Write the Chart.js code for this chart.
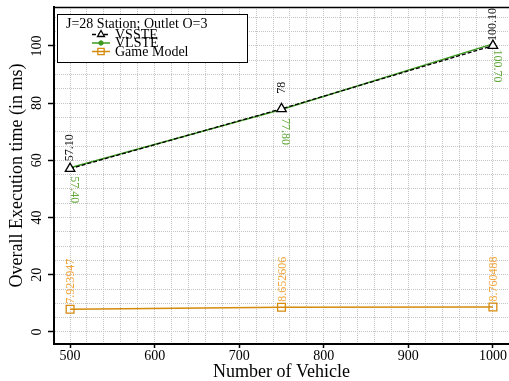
<!DOCTYPE html>
<html>
<head>
<meta charset="utf-8">
<script src="https://cdn.jsdelivr.net/npm/chart.js@4.4.0/dist/chart.umd.min.js"></script>
<style>
  html, body { margin: 0; padding: 0; background: #fff; }
</style>
</head>
<body>
<canvas id="chart" width="509" height="381"></canvas>
<script>
// execution time per vehicle count
const vehicles = [500, 750, 1000];
const vssteTimes = [57.10, 78, 100.10];
const vlsteTimes = [57.40, 77.80, 100.70];
const gameTimes = [7.923947, 8.652606, 8.760488];

const vssteLabels = ["57.10", "78", "100.10"];
const vlsteLabels = ["57.40", "77.80", "100.70"];
const gameLabels = ["7.923947", "8.652606", "8.760488"];

const xTicks = [500, 600, 700, 800, 900, 1000];
const yTicks = [0, 20, 40, 60, 80, 100];
const legendTitle = "J=28 Station; Outlet O=3";

const SERIF = "'Liberation Serif', 'Times New Roman', serif";
const GREEN = "#3d9a1f";
const ORANGE = "#d48b0e";

function gridTicks(from, to, step) {
  const out = [];
  for (let v = from; v <= to + 1e-9; v += step) out.push({ value: v });
  return out;
}

// value labels written sideways next to each point
const valueLabels = {
  id: "valueLabels",
  afterDatasetsDraw(chart) {
    const ctx = chart.ctx;
    const specs = [
      { ds: 0, text: vssteLabels, color: "#111", angle: -Math.PI / 2, dx: 0, dy: -21 },
      { ds: 1, text: vlsteLabels, color: "#63a83c", angle: Math.PI / 2, dx: 4, dy: 22 },
      { ds: 2, text: gameLabels, color: "#f2a53a", angle: -Math.PI / 2, dx: 1, dy: -28 }
    ];
    ctx.save();
    ctx.font = "12px " + SERIF;
    ctx.textAlign = "center";
    ctx.textBaseline = "middle";
    specs.forEach(s => {
      chart.getDatasetMeta(s.ds).data.forEach((pt, i) => {
        ctx.save();
        ctx.translate(pt.x + s.dx, pt.y + s.dy);
        ctx.rotate(s.angle);
        ctx.fillStyle = s.color;
        ctx.fillText(s.text[i], 0, 0);
        ctx.restore();
      });
    });
    ctx.restore();
  },
  afterDraw(chart) {
    const ctx = chart.ctx;
    const area = chart.chartArea;
    const yScale = chart.scales.y;

    // top frame line
    ctx.save();
    ctx.strokeStyle = "#000";
    ctx.lineWidth = 1.5;
    ctx.beginPath();
    ctx.moveTo(area.left, area.top + 0.5);
    ctx.lineTo(area.right, area.top + 0.5);
    ctx.stroke();

    // rotated y tick labels
    ctx.font = "14px " + SERIF;
    ctx.fillStyle = "#000";
    ctx.textAlign = "center";
    ctx.textBaseline = "middle";
    yTicks.forEach(v => {
      ctx.save();
      ctx.translate(37.5, yScale.getPixelForValue(v));
      ctx.rotate(-Math.PI / 2);
      ctx.fillText(String(v), 0, 0);
      ctx.restore();
    });

    // legend box
    const bx = 57.5, by = 14.5, bw = 190, bh = 48;
    ctx.fillStyle = "#fff";
    ctx.fillRect(bx, by, bw, bh);
    ctx.strokeStyle = "#000";
    ctx.lineWidth = 1;
    ctx.strokeRect(bx, by, bw, bh);

    ctx.font = "14px " + SERIF;
    ctx.textAlign = "left";
    ctx.textBaseline = "alphabetic";
    ctx.fillStyle = "#000";
    ctx.fillText(legendTitle, 66, 27.5);

    const rowY = [34.5, 43, 51.5];
    const markR = [4, 2.2, 4.5];
    chart.data.datasets.forEach((ds, i) => {
      const y = rowY[i];
      ctx.save();
      ctx.strokeStyle = ds.borderColor;
      ctx.lineWidth = ds.borderWidth;
      ctx.setLineDash(ds.borderDash || []);
      ctx.beginPath();
      ctx.moveTo(92, y);
      ctx.lineTo(110, y);
      ctx.stroke();
      ctx.setLineDash([]);
      ctx.fillStyle = ds.pointBackgroundColor;
      ctx.strokeStyle = ds.pointBorderColor;
      ctx.lineWidth = ds.pointBorderWidth;
      Chart.helpers.drawPoint(ctx, {
        pointStyle: ds.pointStyle, radius: markR[i], rotation: 0, borderWidth: ds.pointBorderWidth
      }, 101, y);
      ctx.restore();
      ctx.fillStyle = "#000";
      ctx.fillText(ds.label, 115, y + 4);
    });
    ctx.restore();
  }
};

new Chart(document.getElementById("chart"), {
  type: "line",
  data: {
    datasets: [
      {
        label: "VSSTE",
        data: vehicles.map((v, i) => ({ x: v, y: vssteTimes[i] })),
        borderColor: "#000",
        borderWidth: 1.3,
        borderDash: [4, 2],
        pointStyle: "triangle",
        pointRadius: 5.5,
        pointBorderWidth: 1.3,
        pointBorderColor: "#000",
        pointBackgroundColor: "#fff"
      },
      {
        label: "VLSTE",
        data: vehicles.map((v, i) => ({ x: v, y: vlsteTimes[i] })),
        borderColor: GREEN,
        borderWidth: 1.5,
        pointStyle: "circle",
        pointRadius: 2,
        pointBorderWidth: 1,
        pointBorderColor: GREEN,
        pointBackgroundColor: GREEN
      },
      {
        label: "Game Model",
        data: vehicles.map((v, i) => ({ x: v, y: gameTimes[i] })),
        borderColor: ORANGE,
        borderWidth: 1.5,
        pointStyle: "rect",
        pointRadius: 5.5,
        pointBorderWidth: 1.3,
        pointBorderColor: ORANGE,
        pointBackgroundColor: "rgba(0,0,0,0)"
      }
    ]
  },
  options: {
    responsive: false,
    devicePixelRatio: 1,
    animation: false,
    layout: { autoPadding: false, padding: { top: 7, right: 0, bottom: 0, left: 0 } },
    plugins: { legend: { display: false }, tooltip: { enabled: false } },
    scales: {
      x: {
        type: "linear",
        min: 481,
        max: 1019,
        afterBuildTicks: s => { s.ticks = gridTicks(500, 1000, 20); },
        afterFit: s => { s.height = 37; s.paddingLeft = 0; s.paddingRight = 0; },
        ticks: {
          autoSkip: false,
          maxRotation: 0,
          minRotation: 0,
          padding: 0,
          color: "#000",
          font: { family: SERIF, size: 14 },
          callback: v => xTicks.includes(v) ? String(v) : ""
        },
        grid: {
          color: "#c4c4c4",
          lineWidth: 1,
          tickLength: 4,
          tickWidth: 1.5,
          tickColor: c => xTicks.includes(c.tick && c.tick.value) ? "#000" : "rgba(0,0,0,0)"
        },
        border: { color: "#000", width: 2, dash: [1, 1] },
        title: {
          display: true,
          text: "Number of Vehicle",
          color: "#000",
          font: { family: SERIF, size: 18, lineHeight: 1 },
          padding: { top: 0, bottom: 0 }
        }
      },
      y: {
        type: "linear",
        min: -4.2,
        max: 113.6,
        afterBuildTicks: s => { s.ticks = gridTicks(0, 110, 5); },
        afterFit: s => { s.width = 54; s.paddingTop = 0; s.paddingBottom = 0; },
        ticks: { display: false },
        grid: {
          color: "#c4c4c4",
          lineWidth: 1,
          tickLength: 6,
          tickWidth: 1.5,
          tickColor: c => yTicks.includes(c.tick && c.tick.value) ? "#000" : "rgba(0,0,0,0)"
        },
        border: { color: "#000", width: 2, dash: [1, 1] },
        title: {
          display: true,
          text: "Overall Execution time (in ms)",
          color: "#000",
          font: { family: SERIF, size: 18, lineHeight: 1 },
          padding: { top: 8.5, bottom: 0 }
        }
      }
    }
  },
  plugins: [valueLabels]
});
</script>
</body>
</html>
